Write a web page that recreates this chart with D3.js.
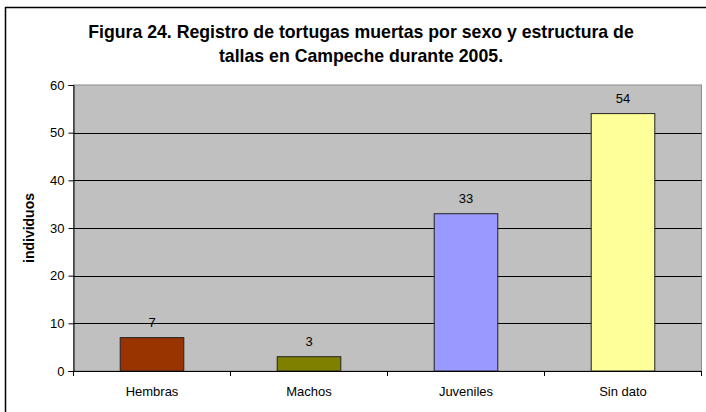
<!DOCTYPE html>
<html lang="es">
<head>
<meta charset="utf-8">
<title>Figura 24</title>
<script src="https://d3js.org/d3.v7.min.js"></script>
<style>
  body { margin: 0; background: #fff; }
  text { font-family: Arial, "Liberation Sans", sans-serif; fill: #000; }
</style>
</head>
<body>
<script>
// data
var categorias = ["Hembras", "Machos", "Juveniles", "Sin dato"];
var valores = [7, 3, 33, 54];
var colores = ["#993300", "#808000", "#9999FF", "#FFFF99"];
var yTicks = [0, 10, 20, 30, 40, 50, 60];

var W = 706, H = 412;
var plot = {left: 73.5, right: 701.5, top: 85, bottom: 371};

var svg = d3.select("body").append("svg")
  .attr("width", W).attr("height", H);

// outer chart border (right/bottom run off the picture)
svg.append("rect")
  .attr("x", 5.5).attr("y", 7.5)
  .attr("width", W + 10).attr("height", H + 10)
  .attr("fill", "#fff").attr("stroke", "#000").attr("stroke-width", 1.5);

// title
var title = svg.append("text")
  .attr("text-anchor", "middle")
  .style("font-weight", "bold").style("font-size", "17.7px");
title.append("tspan").attr("x", 361).attr("y", 37.5)
  .text("Figura 24. Registro de tortugas muertas por sexo y estructura de");
title.append("tspan").attr("x", 361).attr("y", 62)
  .text("tallas en Campeche durante 2005.");

var x = d3.scaleBand()
  .domain(categorias)
  .range([plot.left, plot.right])
  .paddingInner(0.595).paddingOuter(0.2975);

var y = d3.scaleLinear().domain([0, 60]).range([plot.bottom, plot.top]);

// plot area
svg.append("rect")
  .attr("x", plot.left).attr("y", plot.top)
  .attr("width", plot.right - plot.left).attr("height", plot.bottom - plot.top)
  .attr("fill", "#C0C0C0").attr("stroke", "#8c8c8c").attr("stroke-width", 1);

// gridlines
svg.selectAll(".grid")
  .data(yTicks.filter(function(d) { return d > 0 && d < 60; }))
  .enter().append("line")
  .attr("class", "grid")
  .attr("x1", plot.left).attr("x2", plot.right)
  .attr("y1", function(d) { return Math.round(y(d)) + 0.5; })
  .attr("y2", function(d) { return Math.round(y(d)) + 0.5; })
  .attr("stroke", "#000").attr("stroke-width", 1);

// bars
svg.selectAll(".bar")
  .data(valores)
  .enter().append("rect")
  .attr("class", "bar")
  .attr("x", function(d, i) { return x(categorias[i]); })
  .attr("y", function(d) { return y(d); })
  .attr("width", x.bandwidth())
  .attr("height", function(d) { return y(0) - y(d); })
  .attr("fill", function(d, i) { return colores[i]; })
  .attr("stroke", "#222").attr("stroke-width", 1);

// value labels
svg.selectAll(".val")
  .data(valores)
  .enter().append("text")
  .attr("class", "val")
  .attr("x", function(d, i) { return x(categorias[i]) + x.bandwidth() / 2; })
  .attr("y", function(d) { return y(d) - 10.5; })
  .attr("text-anchor", "middle")
  .style("font-size", "13px")
  .text(function(d) { return d; });

// y axis
var yAxis = d3.axisLeft(y).tickValues(yTicks).tickSize(5).tickPadding(4);
var gy = svg.append("g")
  .attr("transform", "translate(" + plot.left + ",0)")
  .call(yAxis);
gy.selectAll("text").style("font-size", "13px").attr("fill", "#000");
gy.selectAll("line, path").attr("stroke", "#000");

// x axis: ticks at category boundaries
var gx = svg.append("g")
  .attr("transform", "translate(0," + plot.bottom + ")");
gx.append("line")
  .attr("x1", plot.left - 5).attr("x2", plot.right)
  .attr("y1", 0.5).attr("y2", 0.5)
  .attr("stroke", "#000");
var step = x.step();
svg.selectAll(".xtick")
  .data(d3.range(categorias.length + 1))
  .enter().append("line")
  .attr("class", "xtick")
  .attr("x1", function(i) { return plot.left + i * step; })
  .attr("x2", function(i) { return plot.left + i * step; })
  .attr("y1", plot.bottom).attr("y2", plot.bottom + 5)
  .attr("stroke", "#000");
svg.selectAll(".xlab")
  .data(categorias)
  .enter().append("text")
  .attr("class", "xlab")
  .attr("x", function(d) { return x(d) + x.bandwidth() / 2; })
  .attr("y", 396)
  .attr("text-anchor", "middle")
  .style("font-size", "13px")
  .text(function(d) { return d; });

// y axis title
svg.append("text")
  .attr("transform", "translate(34,228) rotate(-90)")
  .attr("text-anchor", "middle")
  .style("font-weight", "bold").style("font-size", "14px")
  .text("individuos");
</script>
</body>
</html>
